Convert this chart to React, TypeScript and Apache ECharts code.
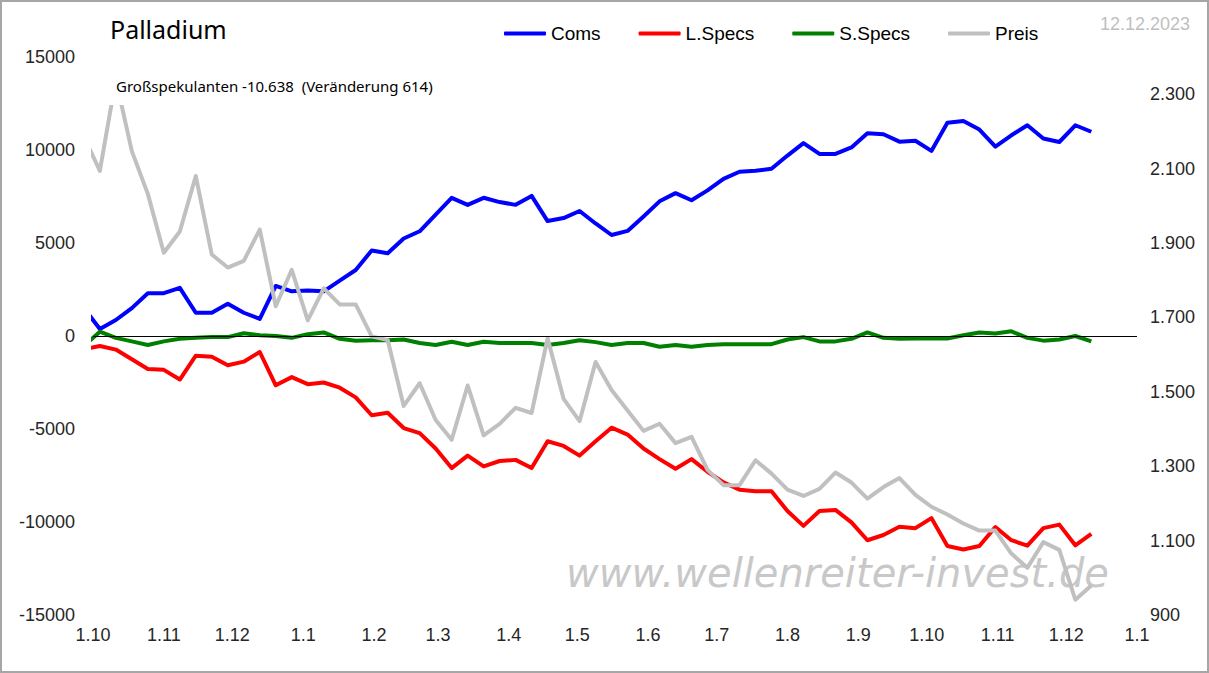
import { useEffect, useRef } from "react";
import * as echarts from "echarts";

// weekly COT report dates (Tuesdays)
const dates = [
  "2022-09-27", "2022-10-04", "2022-10-11", "2022-10-18", "2022-10-25",
  "2022-11-01", "2022-11-08", "2022-11-15", "2022-11-22", "2022-11-29",
  "2022-12-06", "2022-12-13", "2022-12-20", "2022-12-27",
  "2023-01-03", "2023-01-10", "2023-01-17", "2023-01-24", "2023-01-31",
  "2023-02-07", "2023-02-14", "2023-02-21", "2023-02-28",
  "2023-03-07", "2023-03-14", "2023-03-21", "2023-03-28",
  "2023-04-04", "2023-04-11", "2023-04-18", "2023-04-25",
  "2023-05-02", "2023-05-09", "2023-05-16", "2023-05-23", "2023-05-30",
  "2023-06-06", "2023-06-13", "2023-06-20", "2023-06-27",
  "2023-07-04", "2023-07-11", "2023-07-18", "2023-07-25",
  "2023-08-01", "2023-08-08", "2023-08-15", "2023-08-22", "2023-08-29",
  "2023-09-05", "2023-09-12", "2023-09-19", "2023-09-26",
  "2023-10-03", "2023-10-10", "2023-10-17", "2023-10-24", "2023-10-31",
  "2023-11-07", "2023-11-14", "2023-11-21", "2023-11-28",
  "2023-12-05", "2023-12-12",
];

const coms = [
  1500, 380, 860, 1500, 2300, 2300, 2590, 1250, 1250, 1730,
  1250, 920, 2690, 2400, 2440, 2400, 2980, 3550, 4600, 4450,
  5240, 5630, 6530, 7430, 7050, 7430, 7200, 7050, 7530, 6180,
  6340, 6720, 6050, 5430, 5650, 6430, 7240, 7680, 7300, 7830,
  8450, 8830, 8890, 8990, 9700, 10370, 9790, 9790, 10140, 10900,
  10850, 10450, 10500, 9950, 11460, 11560, 11100, 10180, 10790, 11330,
  10620, 10430, 11330, 10980,
];

const longSpecs = [
  -710, -540, -730, -1250, -1770, -1820, -2340, -1060, -1110, -1570,
  -1380, -860, -2650, -2210, -2590, -2500, -2780, -3300, -4260, -4130,
  -4950, -5220, -6050, -7100, -6430, -7010, -6720, -6660, -7100, -5660,
  -5910, -6430, -5660, -4930, -5300, -6050, -6620, -7140, -6620, -7300,
  -7870, -8260, -8350, -8350, -9410, -10210, -9410, -9350, -10020, -10980,
  -10700, -10250, -10330, -9790, -11290, -11480, -11290, -10270, -10980, -11270,
  -10330, -10140, -11252, -10638,
];

const shortSpecs = [
  -540, 230, -100, -290, -480, -290, -150, -100, -60, -60,
  150, 40, 0, -100, 100, 190, -150, -250, -230, -230,
  -190, -380, -480, -310, -480, -310, -380, -380, -380, -480,
  -380, -230, -330, -480, -380, -380, -580, -480, -580, -480,
  -440, -440, -440, -440, -190, -60, -290, -290, -150, 190,
  -100, -150, -130, -130, -130, 40, 190, 130, 250, -100,
  -250, -190, 0, -290,
];

const preis = [
  2186, 2094, 2340, 2147, 2032, 1874, 1931, 2080, 1869, 1834,
  1852, 1936, 1730, 1828, 1692, 1778, 1735, 1735, 1649, 1639,
  1462, 1523, 1424, 1371, 1517, 1383, 1414, 1457, 1443, 1644,
  1481, 1421, 1580, 1505, 1450, 1395, 1414, 1362, 1379, 1290,
  1249, 1249, 1316, 1280, 1237, 1220, 1239, 1283, 1256, 1213,
  1244, 1268, 1223, 1191, 1170, 1146, 1127, 1127, 1065, 1027,
  1096, 1075, 941, 979,
];

const monthTicks = [
  "2022-10-01", "2022-11-01", "2022-12-01", "2023-01-01", "2023-02-01",
  "2023-03-01", "2023-04-01", "2023-05-01", "2023-06-01", "2023-07-01",
  "2023-08-01", "2023-09-01", "2023-10-01", "2023-11-01", "2023-12-01",
  "2024-01-01",
];

const ms = (d: string) => Date.parse(d + "T00:00:00Z");

const pairs = (values: number[]) => values.map((v, i) => [ms(dates[i]), v]);

const fmtPrice = (v: number) => {
  if (v > 2300) return "";
  if (v < 1000) return String(v);
  return Math.floor(v / 1000) + "." + String(v % 1000).padStart(3, "0");
};

const axisFont = {
  fontFamily: "Liberation Sans",
  fontSize: 18,
  color: "#262626",
};

export default function App() {
  const chartRef = useRef<HTMLDivElement>(null);

  useEffect(() => {
    document.body.style.margin = "0";
    if (!chartRef.current) return;
    const chart = echarts.init(chartRef.current, null, { renderer: "svg" });

    const lineSeries = (name: string, values: number[], color: string, yAxisIndex = 0) => ({
      name,
      type: "line",
      yAxisIndex,
      data: pairs(values),
      symbol: "none",
      clip: true,
      lineStyle: { color, width: 4, join: "round" },
      itemStyle: { color },
    });

    chart.setOption({
      animation: false,
      backgroundColor: "#ffffff",
      grid: { left: 93, right: 72, top: 57, bottom: 58 },
      legend: {
        left: 499,
        top: 19,
        icon: "roundRect",
        itemWidth: 42,
        itemHeight: 4,
        itemGap: 38,
        textStyle: { fontFamily: "Liberation Sans", fontSize: 19, color: "#000" },
        data: ["Coms", "L.Specs", "S.Specs", "Preis"],
      },
      xAxis: {
        type: "value",
        min: ms(monthTicks[0]),
        max: ms(monthTicks[monthTicks.length - 1]),
        splitLine: { show: false },
        axisLine: { show: false },
        axisTick: { show: false },
        axisLabel: {
          ...axisFont,
          margin: 11,
          customValues: monthTicks.map(ms),
          formatter: (v: number) => "1." + (new Date(v).getUTCMonth() + 1),
        },
      },
      yAxis: [
        {
          type: "value",
          min: -15000,
          max: 15000,
          interval: 5000,
          splitLine: { show: false },
          axisLine: { show: false },
          axisTick: { show: false },
          axisLabel: { ...axisFont, margin: 18, formatter: (v: number) => String(v) },
        },
        {
          type: "value",
          min: 900,
          max: 2400,
          interval: 200,
          position: "right",
          splitLine: { show: false },
          axisLine: { show: false },
          axisTick: { show: false },
          axisLabel: { ...axisFont, margin: 13, formatter: fmtPrice },
        },
      ],
      series: [
        {
          ...lineSeries("Coms", coms, "#0000ff"),
          markLine: {
            silent: true,
            symbol: "none",
            label: { show: false },
            lineStyle: { color: "#000", width: 1, type: "solid" },
            data: [{ yAxis: 0 }],
          },
        },
        lineSeries("L.Specs", longSpecs, "#ff0000"),
        lineSeries("S.Specs", shortSpecs, "#008000"),
        lineSeries("Preis", preis, "#c0c0c0", 1),
      ],
      graphic: [
        {
          type: "rect",
          z: 200,
          silent: true,
          shape: { x: 1, y: 1, width: 1207, height: 671 },
          style: { fill: "none", stroke: "#a6a6a6", lineWidth: 2 },
        },
        {
          type: "text",
          left: 110,
          top: 16,
          z: 100,
          style: {
            text: "Palladium",
            fontFamily: "Noto Sans",
            fontSize: 25,
            fill: "#000",
          },
        },
        {
          type: "text",
          left: 1100,
          top: 15,
          z: 100,
          style: {
            text: "12.12.2023",
            fontFamily: "Liberation Sans",
            fontSize: 18,
            fill: "#bfbfbf",
          },
        },
        {
          // white box behind the annotation, hides the price peak
          type: "rect",
          z: 99,
          silent: true,
          shape: { x: 108, y: 60, width: 340, height: 45 },
          style: { fill: "#ffffff" },
        },
        {
          type: "text",
          left: 116,
          top: 78,
          z: 100,
          style: {
            text: "Großspekulanten -10.638  (Veränderung 614)",
            fontFamily: "Noto Sans",
            fontSize: 15,
            fill: "#000",
          },
        },
        {
          type: "text",
          left: 566,
          top: 553,
          z: 0,
          silent: true,
          style: {
            text: "www.wellenreiter-invest.de",
            fontFamily: "DejaVu Sans",
            fontStyle: "italic",
            fontSize: 40,
            fill: "#c8c8c8",
          },
        },
      ],
    });

    return () => {
      chart.dispose();
    };
  }, []);

  return <div ref={chartRef} style={{ width: 1209, height: 673 }} />;
}
